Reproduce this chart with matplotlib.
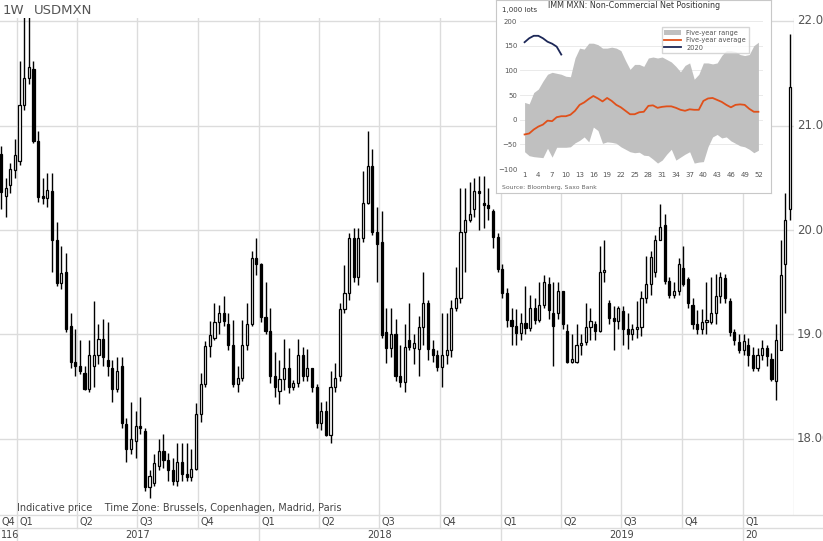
import matplotlib
matplotlib.use("Agg")
import matplotlib.pyplot as plt
import numpy as np
from datetime import date

# ---- USDMXN weekly candles (open, high, low, close) ----
opens = [20.73,20.33,20.43,20.57,20.66,21.2,21.46,21.54,20.85,20.33,20.31,20.37,19.9,19.49,19.6,19.08,18.74,18.7,18.63,18.48,
 18.7,18.8,18.96,18.75,18.68,18.48,18.7,18.14,17.9,17.98,18.12,18.07,17.54,17.58,17.74,17.88,17.8,17.7,17.6,17.78,
 17.66,17.63,17.71,18.24,18.52,18.89,18.97,19.12,19.2,19.1,18.9,18.52,18.58,18.9,19.1,19.73,19.67,19.17,19.03,18.6,
 18.46,18.57,18.68,18.5,18.53,18.8,18.6,18.68,18.5,18.15,18.27,18.04,18.5,18.6,19.24,19.4,19.92,19.55,19.92,20.26,
 20.61,19.98,19.88,19.02,18.87,19.0,18.6,18.54,18.95,18.87,18.86,19.07,19.3,18.86,18.8,18.69,18.8,18.85,19.25,19.35,
 19.98,20.1,20.2,20.37,20.25,20.24,20.18,19.93,19.63,19.4,19.14,19.08,19.01,19.11,19.06,19.25,19.14,19.28,19.48,19.2,
 19.2,19.42,19.03,18.74,18.74,18.9,18.93,19.07,19.1,19.03,19.6,19.3,19.16,19.13,19.22,19.05,19.0,19.05,19.07,19.35,
 19.48,19.6,19.9,20.05,19.51,19.38,19.42,19.64,19.53,19.28,19.1,19.05,19.12,19.12,19.2,19.37,19.54,19.32,19.02,18.93,
 18.85,18.9,18.8,18.68,18.8,18.87,18.76,18.55,18.85,19.67,20.2]
closes = [20.36,20.4,20.58,20.72,21.2,21.46,21.56,20.85,20.32,20.31,20.38,19.9,19.49,19.59,19.05,18.74,18.7,18.65,18.48,18.8,
 18.8,18.96,18.78,18.7,18.48,18.65,18.15,17.9,18.0,18.12,18.1,17.54,17.64,17.77,17.88,17.8,17.7,17.6,17.78,17.66,
 17.63,17.71,18.24,18.52,18.89,18.99,19.12,19.2,19.13,18.9,18.52,18.58,18.9,19.1,19.73,19.67,19.17,19.03,18.6,18.5,
 18.57,18.68,18.5,18.53,18.8,18.6,18.68,18.5,18.15,18.27,18.04,18.5,18.58,19.24,19.4,19.92,19.55,19.92,20.26,20.61,
 19.98,19.87,18.99,18.87,19.0,18.6,18.54,18.88,18.88,18.92,19.07,19.3,18.86,18.8,18.69,18.8,18.85,19.25,19.35,19.98,
 20.1,20.15,20.37,20.35,20.24,20.21,19.93,19.63,19.4,19.14,19.08,19.01,19.11,19.06,19.25,19.14,19.28,19.5,19.23,19.08,
 19.42,19.1,18.74,18.74,18.9,18.9,19.07,19.13,19.03,19.6,19.62,19.16,19.13,19.25,19.05,19.0,19.05,19.07,19.35,19.48,
 19.74,19.9,20.03,19.51,19.38,19.42,19.67,19.48,19.3,19.1,19.05,19.12,19.12,19.2,19.37,19.55,19.35,19.02,18.95,18.85,
 18.94,18.8,18.68,18.8,18.87,18.79,18.57,18.95,19.57,20.1,21.37]
highs = [20.8,20.5,20.64,20.87,21.62,22.1,22.1,21.62,20.95,20.5,20.55,20.55,20.08,19.85,19.78,19.2,19.05,18.95,18.7,18.95,
 19.32,19.1,19.15,19.12,18.75,18.78,18.78,18.2,18.35,18.27,18.4,18.1,17.7,17.85,18.0,18.05,17.86,17.82,17.96,17.96,
 17.96,17.9,18.34,18.63,18.94,19.13,19.3,19.28,19.37,19.2,19.14,18.7,19.14,19.3,19.8,19.92,19.68,19.5,19.25,18.83,
 18.75,18.96,18.87,18.56,18.96,18.88,18.86,18.68,18.52,18.35,18.36,18.65,18.73,19.3,19.66,19.97,20.02,20.02,20.56,20.95,
 20.78,20.22,20.18,19.25,19.25,19.15,18.9,19.1,19.3,19.0,19.18,19.6,19.33,18.95,18.85,19.2,19.2,19.33,19.65,20.4,
 20.4,20.46,20.5,20.52,20.52,20.4,20.2,19.97,19.67,19.44,19.25,19.24,19.2,19.46,19.38,19.35,19.5,19.57,19.55,19.5,
 19.5,19.42,19.1,19.0,19.1,19.0,19.3,19.25,19.13,19.85,19.9,19.33,19.27,19.27,19.27,19.2,19.1,19.32,19.42,19.75,
 19.8,19.95,20.25,20.15,19.55,19.5,19.73,19.85,19.55,19.35,19.23,19.24,19.5,19.55,19.58,19.6,19.58,19.35,19.05,19.0,
 19.0,18.97,18.88,18.87,18.95,18.9,18.82,19.1,19.9,20.35,21.88]
lows = [20.2,20.12,20.35,20.5,20.62,21.15,21.4,20.83,20.27,20.25,20.22,19.6,19.46,19.43,19.02,18.68,18.6,18.62,18.47,18.45,
 18.5,18.72,18.7,18.6,18.35,18.45,18.1,17.78,17.85,17.82,18.05,17.5,17.43,17.55,17.7,17.72,17.6,17.56,17.55,17.6,
 17.6,17.6,17.7,18.16,18.5,18.78,18.95,19.0,19.08,18.85,18.5,18.45,18.55,18.85,19.08,19.57,19.12,19.0,18.53,18.4,
 18.33,18.47,18.44,18.47,18.5,18.55,18.55,18.45,18.1,18.08,18.03,17.96,18.45,18.55,19.2,19.33,19.5,19.47,19.88,20.25,
 19.95,19.5,18.97,18.73,18.78,18.55,18.5,18.45,18.85,18.72,18.6,18.9,18.75,18.74,18.65,18.5,18.72,18.78,19.22,19.3,
 19.6,20.08,20.12,20.0,20.02,20.1,19.83,19.6,19.35,19.07,18.9,18.9,18.95,19.0,19.03,19.1,19.12,19.25,19.15,18.7,
 19.15,19.05,18.73,18.73,18.73,18.8,18.9,18.95,18.95,19.02,19.5,19.1,18.85,19.05,18.9,18.86,18.95,18.97,18.98,19.3,
 19.38,19.55,19.9,19.48,19.35,19.35,19.38,19.46,19.25,19.05,19.0,19.0,19.0,19.1,19.1,19.3,19.3,18.98,18.9,18.82,
 18.8,18.7,18.65,18.65,18.75,18.7,18.55,18.37,18.85,19.2,20.1]
first_week = date(2016, 12, 8)
price_ticks = [18.0, 19.0, 20.0, 21.0, 22.0]

# ---- Inset: IMM MXN non-commercial net positioning (1,000 lots) ----
weeks = list(range(1, 53))
range_upper = [35,32,55,62,78,92,96,94,92,88,87,125,145,143,155,155,152,145,145,147,145,140,120,102,112,112,108,125,127,125,
 127,122,117,108,97,110,115,82,92,115,115,113,115,130,140,140,138,132,130,132,150,157]
range_lower = [-65,-73,-75,-76,-77,-58,-76,-56,-56,-56,-55,-47,-42,-35,-45,-15,-22,-48,-45,-46,-48,-55,-60,-65,-67,-66,-72,
 -73,-80,-88,-82,-70,-60,-82,-76,-70,-65,-88,-86,-85,-55,-35,-30,-37,-35,-43,-48,-53,-55,-60,-67,-62]
five_yr_avg = [-30,-28,-20,-14,-10,-2,-3,5,7,7,10,18,30,35,42,48,43,37,44,38,30,25,18,11,11,15,16,28,29,24,26,27,27,24,20,
 18,21,20,20,38,43,44,40,36,30,25,30,31,30,22,16,16]
weeks_2020 = [1,2,3,4,5,6,7,8,9]
pos_2020 = [157,165,170,170,165,158,154,148,132]

W, H = 823, 541
fig = plt.figure(figsize=(W/100, H/100), dpi=100)
fig.patch.set_facecolor("white")

def fx(px): return px / W
def fy(py): return 1 - py / H

ax = fig.add_axes([0, fy(515), fx(794), fy(18) - fy(515)])
base = date(2017, 1, 1)
def dnum(d): return (d - base).days
xs = np.array([dnum(first_week) + 7*i for i in range(len(closes))])
ax.set_xlim(-25.5, 1172)
ax.set_ylim(17.27, 22.03)

qstarts = []
for y in range(2016, 2021):
    for m in (1, 4, 7, 10):
        qstarts.append(date(y, m, 1))
qx = [dnum(d) for d in qstarts if -25.5 < dnum(d) < 1172]
for q in qx:
    ax.axvline(q, color="#dcdcdc", lw=1, zorder=0)
for p in price_ticks:
    ax.axhline(p, color="#dcdcdc", lw=1, zorder=0)
ax.axvline(1172, color="#dcdcdc", lw=1)

for x, o, h, l, c in zip(xs, opens, highs, lows, closes):
    ax.vlines(x, l, h, color="black", lw=1, zorder=2)
    bot, top = min(o, c), max(o, c)
    if top - bot < 0.02:
        top = bot + 0.02
    up = c >= o
    ax.add_patch(plt.Rectangle((x - 1.6, bot), 3.2, top - bot,
                               facecolor="white" if up else "black",
                               edgecolor="black", lw=0.9, zorder=3))
ax.set_xticks([]); ax.set_yticks([])
for s in ax.spines.values():
    s.set_visible(False)

for p in price_ticks:
    yy = 21 + (22.0 - p) * 104.5
    fig.text(fx(797), fy(yy), f"{p:.3f}", fontsize=8.5, color="#555555", va="center", ha="left")

fig.text(fx(3), fy(10), "1W", fontsize=9.5, color="#555555", va="center")
fig.text(fx(34), fy(10), "USDMXN", fontsize=9.5, color="#555555", va="center")
fig.text(fx(17), fy(508), "Indicative price    Time Zone: Brussels, Copenhagen, Madrid, Paris",
         fontsize=7, color="#444444", va="center")

pxday = 794 / (1172 + 25.5)
def topx(d): return (d + 25.5) * pxday
fig.add_artist(plt.Line2D([0, 1], [fy(515), fy(515)], color="#dcdcdc", lw=1))
fig.add_artist(plt.Line2D([0, 1], [fy(528), fy(528)], color="#dcdcdc", lw=1))
qnames = {1: "Q1", 4: "Q2", 7: "Q3", 10: "Q4"}
fig.text(fx(1), fy(521.5), "Q4", fontsize=7, color="#444444", va="center")
for d in qstarts:
    p = topx(dnum(d))
    if 0 < p < 794:
        fig.add_artist(plt.Line2D([fx(p), fx(p)], [fy(515), fy(528)], color="#dcdcdc", lw=1))
        fig.text(fx(p + 3), fy(521.5), qnames[d.month], fontsize=7, color="#444444", va="center")
ybounds = [0] + [topx(dnum(date(y, 1, 1))) for y in (2017, 2018, 2019, 2020)] + [823]
for yb in ybounds[1:-1]:
    fig.add_artist(plt.Line2D([fx(yb), fx(yb)], [fy(528), fy(541)], color="#dcdcdc", lw=1))
fig.text(fx(1), fy(534.5), "116", fontsize=7, color="#444444", va="center")
for i, yname in enumerate(["2017", "2018", "2019"]):
    c = (ybounds[i+1] + ybounds[i+2]) / 2
    fig.text(fx(c), fy(534.5), yname, fontsize=7, color="#444444", va="center", ha="center")
fig.text(fx(ybounds[4] + 2), fy(534.5), "20", fontsize=7, color="#444444", va="center")

# ---- inset ----
box = fig.add_axes([fx(496), fy(193), fx(771) - fx(496), fy(0) - fy(193)])
box.set_xticks([]); box.set_yticks([])
box.set_facecolor("white")
for s in box.spines.values():
    s.set_color("#c8c8c8")
box.set_zorder(5)
ins = fig.add_axes([fx(520), fy(169), fx(763) - fx(520), fy(21) - fy(169)])
ins.set_zorder(6)
ins.set_facecolor("none")
ins.fill_between(weeks, range_lower, range_upper, color="#c0c0c0", lw=0, label="Five-year range")
ins.plot(weeks, five_yr_avg, color="#e0501a", lw=1.3, label="Five-year average")
ins.plot(weeks_2020, pos_2020, color="#1c2757", lw=1.3, label="2020")
for yv in range(-100, 201, 50):
    ins.axhline(yv, color="#e6e6e6", lw=0.6, zorder=0)
ins.set_yticks(range(-100, 201, 50))
ins.set_xticks(range(1, 53, 3))
ins.tick_params(labelsize=5, colors="#555555", length=0, pad=2)
for s in ins.spines.values():
    s.set_visible(False)
ins.set_xlim(0, 53); ins.set_ylim(-100, 200)
ins.legend(loc="upper right", fontsize=4.8, frameon=True, fancybox=False,
           edgecolor="#cccccc", labelcolor="#555555", handlelength=2.5,
           borderpad=0.4, labelspacing=0.2, bbox_to_anchor=(0.955, 0.98))
fig.text(fx(502), fy(10), "1,000 lots", fontsize=5, color="#333333", va="center", zorder=10)
fig.text(fx(634), fy(6), "IMM MXN: Non-Commercial Net Positioning", fontsize=5.8,
         color="#333333", va="center", ha="center", zorder=10)
fig.text(fx(502), fy(188), "Source: Bloomberg, Saxo Bank", fontsize=4.4, color="#666666",
         va="center", zorder=10)

fig.savefig("out.png", dpi=100)
